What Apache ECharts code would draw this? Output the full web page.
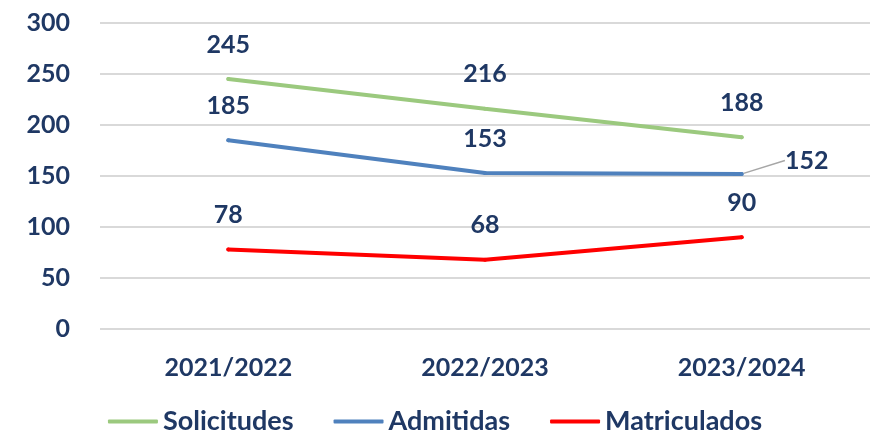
<!DOCTYPE html>
<html>
<head>
<meta charset="utf-8">
<script src="https://cdn.jsdelivr.net/npm/echarts@6/dist/echarts.min.js"></script>
<style>
  html, body { margin: 0; padding: 0; background: #fff; }
  #chart { width: 870px; height: 440px; }
</style>
</head>
<body>
<div id="chart"></div>
<script>
// cursos academicos
var cursos = ['2021/2022', '2022/2023', '2023/2024'];
var solicitudes = [245, 216, 188];
var admitidas = [185, 153, 152];
var matriculados = [78, 68, 90];

var textColor = '#1f3864';
var font = 'Lato, "Open Sans", sans-serif';

var chart = echarts.init(document.getElementById('chart'));

function serie(nombre, datos, color, conGuia) {
    return {
        name: nombre,
        type: 'line',
        // solo la ultima etiqueta de Admitidas lleva linea guia
        data: datos.map(function (v, i) {
            return (conGuia && i === datos.length - 1) ? { value: v, labelLine: { show: true } } : v;
        }),
        symbol: 'circle',
        symbolSize: 4,
        lineStyle: { color: color, width: 4, cap: 'round' },
        itemStyle: { color: color },
        label: {
            show: true,
            position: 'top',
            distance: 20,
            color: textColor,
            fontFamily: font,
            fontWeight: 'bold',
            fontSize: 25
        },
        labelLine: { show: false, lineStyle: { color: '#a6a6a6', width: 1.5 } }
    };
}

chart.setOption({
    animation: false,
    color: ['#9bc97e', '#4f81bd', '#ff0000'],
    grid: { left: 100, right: 0, top: 23, bottom: 111, containLabel: false },
    legend: {
        bottom: 0,
        left: 'center',
        itemWidth: 50,
        itemHeight: 4,
        itemGap: 40,
        icon: 'roundRect',
        textStyle: { color: textColor, fontFamily: font, fontWeight: 'bold', fontSize: 27 },
        data: ['Solicitudes', 'Admitidas', 'Matriculados']
    },
    xAxis: {
        type: 'category',
        data: cursos,
        boundaryGap: true,
        axisLine: { show: false },
        axisTick: { show: false },
        axisLabel: { color: textColor, fontFamily: font, fontWeight: 'bold', fontSize: 25, margin: 26 }
    },
    yAxis: {
        type: 'value',
        min: 0,
        max: 300,
        interval: 50,
        axisLabel: { color: textColor, fontFamily: font, fontWeight: 'bold', fontSize: 25, margin: 30 },
        splitLine: { lineStyle: { color: '#d9d9d9', width: 2 } }
    },
    labelLayout: function (p) {
        // etiqueta 152 desplazada a la derecha
        if (p.seriesIndex === 1 && p.dataIndex === 2) {
            return { x: p.labelRect.x + 65, y: p.labelRect.y + 21, moveOverlap: false };
        }
        return {};
    },
    series: [
        serie('Solicitudes', solicitudes, '#9bc97e', false),
        serie('Admitidas', admitidas, '#4f81bd', true),
        serie('Matriculados', matriculados, '#ff0000', false)
    ]
});
</script>
</body>
</html>
